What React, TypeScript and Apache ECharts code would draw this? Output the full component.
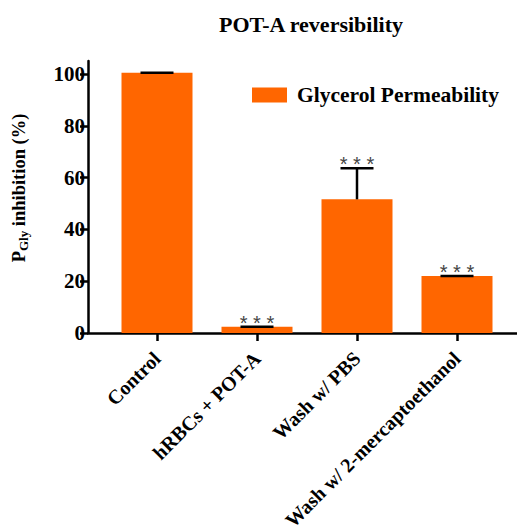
import React, { useEffect, useRef } from "react";
import * as echarts from "echarts";

const categories = ["Control", "hRBCs + POT-A", "Wash w/ PBS", "Wash w/ 2-mercaptoethanol"];
const values = [100.5, 2.4, 51.6, 22];
const errors = [0, 0, 12, 0];
const stars = ["", "***", "***", "***"];
const yTicks = [0, 20, 40, 60, 80, 100];

const SERIF = "Liberation Serif, Times New Roman, serif";

export default function App() {
  const ref = useRef<HTMLDivElement>(null);
  useEffect(() => {
    if (!ref.current) return;
    const chart = echarts.init(ref.current, null, { renderer: "svg" });
    const xIdx = categories.map((_, i) => i);
    chart.setOption({
      animation: false,
      backgroundColor: "#ffffff",
      title: {
        text: "POT-A reversibility",
        left: 306,
        top: 8,
        textAlign: "center",
        textStyle: { fontFamily: SERIF, fontWeight: "bold", fontSize: 22, color: "#000" },
      },
      legend: {
        left: 247,
        top: 79,
        itemWidth: 35,
        itemHeight: 15,
        itemGap: 10,
        data: ["Glycerol Permeability"],
        textStyle: { fontFamily: SERIF, fontWeight: "bold", fontSize: 21.5, color: "#000", padding: [0, 0, 0, 5] },
        icon: "rect",
      },
      grid: { left: 88, right: 0, top: 61, bottom: 195, containLabel: false, outerBoundsMode: "none" },
      xAxis: {
        type: "value",
        min: -0.69,
        max: 3.6,
        splitLine: { show: false },
        axisLine: { show: true, onZero: false, lineStyle: { color: "#000", width: 2.5 } },
        axisTick: { show: true, customValues: xIdx, length: 8, lineStyle: { color: "#000", width: 2.5 } },
        axisLabel: {
          customValues: xIdx,
          rotate: 45,
          margin: 22,
          formatter: (v: number) => categories[Math.round(v)] ?? "",
          fontFamily: SERIF,
          fontWeight: "bold",
          fontSize: 20,
          color: "#000",
        },
      },
      yAxis: {
        type: "value",
        min: 0,
        max: 105,
        splitLine: { show: false },
        axisLine: { show: true, onZero: false, lineStyle: { color: "#000", width: 2.5 } },
        axisTick: { show: true, customValues: yTicks, length: 8, lineStyle: { color: "#000", width: 2.5 } },
        axisLabel: {
          customValues: yTicks,
          margin: 3,
          fontFamily: SERIF,
          fontWeight: "bold",
          fontSize: 21,
          color: "#000",
        },
        name: "{a|P}{b|Gly}{a| inhibition (%)}",
        nameLocation: "middle",
        nameRotate: 90,
        nameGap: 58,
        nameTextStyle: {
          padding: [0, 0, 0, 18],
          rich: {
            a: { fontFamily: SERIF, fontWeight: "bold", fontSize: 18.5, color: "#000" },
            b: { fontFamily: SERIF, fontWeight: "bold", fontSize: 13, color: "#000", padding: [9, 0, 0, 0] },
          },
        },
      },
      series: [
        {
          name: "Glycerol Permeability",
          type: "bar",
          barWidth: 71,
          itemStyle: { color: "#FF6600" },
          data: values.map((v, i) => [i, v]),
          z: 2,
        },
        {
          name: "errors",
          type: "custom",
          z: 5,
          data: values.map((v, i) => [i, v, errors[i]]),
          renderItem: (params: any, api: any) => {
            const x = api.value(0);
            const v = api.value(1);
            const e = api.value(2);
            const s = stars[params.dataIndex];
            const base = api.coord([x, v]);
            const top = api.coord([x, v + e]);
            const half = 16.5;
            const children: any[] = [
              {
                type: "line",
                shape: { x1: top[0] - half, y1: top[1], x2: top[0] + half, y2: top[1] },
                style: { stroke: "#000", lineWidth: 2.5 },
              },
            ];
            if (e > 0) {
              children.push({
                type: "line",
                shape: { x1: base[0], y1: base[1], x2: top[0], y2: top[1] },
                style: { stroke: "#000", lineWidth: 2.5 },
              });
            }
            if (s) {
              children.push({
                type: "text",
                x: top[0],
                y: top[1] + 6,
                style: {
                  text: "* * *",
                  fontFamily: "Liberation Sans, Arial, sans-serif",
                  fontSize: 20,
                  fill: "#444",
                  align: "center",
                  verticalAlign: "bottom",
                },
              });
            }
            return { type: "group", children };
          },
        },
      ],
    });
    return () => chart.dispose();
  }, []);
  return <div ref={ref} style={{ width: 517, height: 528, position: "absolute", left: 0, top: 0 }} />;
}
